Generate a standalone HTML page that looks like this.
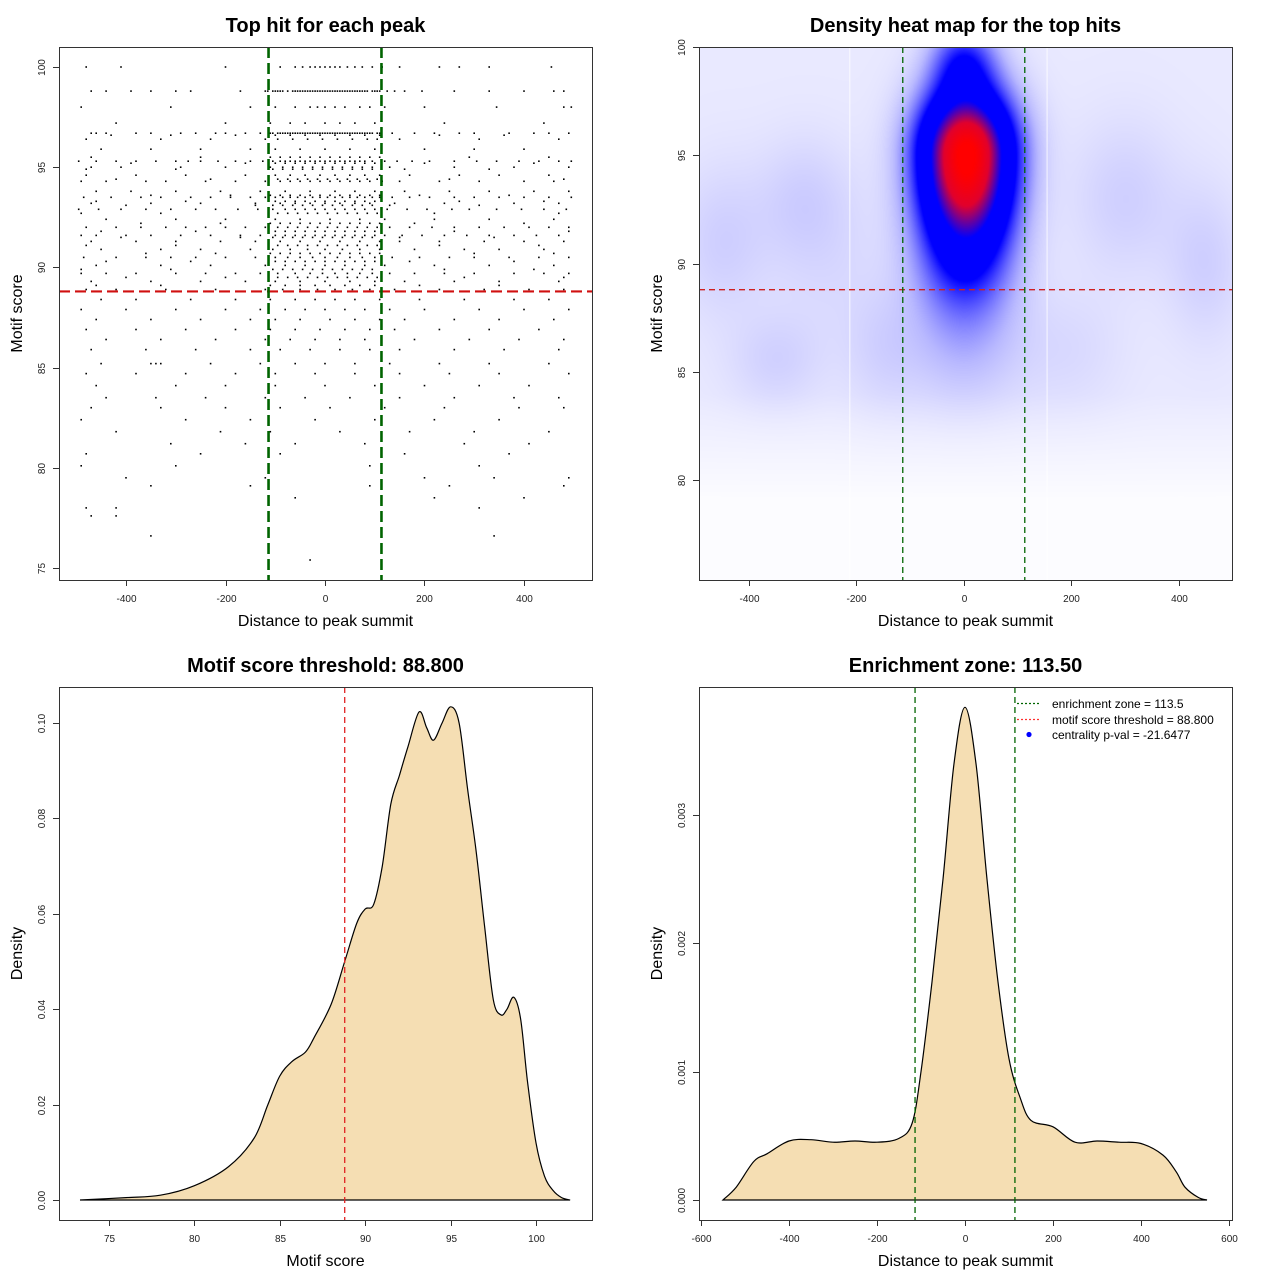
<!DOCTYPE html>
<html><head><meta charset="utf-8">
<style>
html,body{margin:0;padding:0;background:#fff;}
#wrap{position:relative;width:1280px;height:1280px;overflow:hidden;}
#heat{position:absolute;left:699px;top:47px;}
svg{position:absolute;left:0;top:0;}
text{font-family:"Liberation Sans",sans-serif;}
</style></head>
<body>
<div id="wrap">
<canvas id="heat" width="533" height="533"></canvas>
<svg id="svg" width="1280" height="1280"></svg>
</div>
<script>
// ---------- data ----------
// scatter: score levels and x distances of top hits at each level
const scatterLevels = [100,98.8,98,97.2,96.7,96.4,95.9,95.3,95,94.6,94.3,93.8,93.5,93.2,92.9,92.4,92,91.6,91.3,90.9,90.5,90.1,89.7,89.3,88.9,88.4,87.9,87.4,86.9,86.4,85.9,85.2,84.7,84.1,83.5,83,82.4,81.8,81.2,80.7,80.1,79.5,79.1,78.5,78,77.6,76.6,75.4,
  98.8,96.7,96.6,95.5,95.2,94.9,94.4,93.6,93.3,93.1,92.7,92.2,91.8,91.5,91.1,90.7,90.3,89.9,89.5,89.1];
const scatterX = [
[-480,-410,-200,-90,-60,-45,-30,-20,-10,0,10,20,30,45,60,75,95,115,150,230,270,330,455],
[-470,-440,-390,-350,-300,-270,-170,-120,-100,-90,-75,-60,-50,-40,-30,-20,-10,0,10,20,30,40,50,60,70,80,95,105,125,140,160,195,260,330,400,460,480],
[-490,-310,-150,-100,-60,-30,-15,0,20,40,70,90,120,200,345,480,495],
[-420,-200,-110,-70,-40,0,30,60,100,240,440],
[-470,-460,-440,-380,-350,-290,-260,-220,-200,-160,-130,-110,-90,-80,-70,-60,-50,-40,-30,-20,-10,0,10,20,30,40,50,60,70,80,90,110,135,180,220,270,300,370,420,450,490],
[-480,-330,-230,-120,-95,-65,-35,-5,25,55,85,105,150,310,470],
[-450,-350,-250,-150,-100,-50,0,50,100,200,300,400],
[-495,-460,-420,-380,-340,-300,-275,-250,-215,-180,-150,-125,-105,-90,-80,-70,-60,-50,-40,-30,-20,-10,0,10,20,30,40,50,60,70,80,95,120,145,175,210,260,305,345,390,430,470,495],
[-470,-410,-290,-200,-110,-85,-65,-45,-25,-5,15,35,55,75,95,130,260,380,490],
[-480,-380,-280,-160,-100,-70,-40,-10,20,50,80,110,170,270,350,450],
[-490,-440,-360,-320,-240,-180,-120,-90,-70,-50,-30,-10,10,30,50,70,90,115,150,230,310,400,460],
[-460,-390,-300,-210,-130,-80,-30,20,60,100,160,250,330,420,490],
[-485,-430,-370,-330,-270,-230,-190,-150,-120,-100,-85,-70,-55,-40,-25,-10,5,20,35,50,65,80,95,110,135,170,210,260,300,350,400,450,495],
[-470,-350,-250,-140,-90,-60,-30,0,30,60,90,140,240,380,470],
[-495,-455,-410,-360,-310,-260,-220,-175,-135,-105,-80,-60,-40,-20,0,20,40,60,80,100,125,165,205,255,290,345,395,440,485],
[-440,-300,-200,-100,-50,10,70,120,220,330,460],
[-480,-420,-370,-320,-280,-240,-200,-160,-120,-95,-75,-55,-35,-15,5,25,45,65,85,105,130,170,215,260,310,360,410,450,490],
[-490,-460,-400,-350,-290,-230,-170,-130,-100,-80,-60,-40,-20,0,20,40,60,80,100,120,155,195,240,285,330,380,425,470],
[-470,-380,-300,-210,-140,-90,-50,-10,30,70,110,150,230,320,400,480],
[-450,-330,-250,-150,-105,-70,-35,0,35,70,110,180,280,350,440],
[-485,-420,-360,-310,-260,-200,-140,-100,-75,-50,-25,0,25,50,75,100,135,190,250,300,370,430,490],
[-460,-330,-230,-120,-80,-40,0,40,80,120,220,330,460],
[-490,-440,-380,-300,-240,-180,-130,-95,-60,-30,-5,20,45,70,95,130,180,240,300,380,440,490],
[-470,-350,-250,-160,-100,-50,0,50,100,160,260,350,470],
[-480,-420,-320,-220,-120,-85,-50,-15,20,55,90,140,230,320,410,480],
[-450,-380,-270,-180,-110,-60,-20,20,60,110,190,280,380,450],
[-490,-400,-300,-200,-130,-80,-40,0,40,80,130,200,310,400,490],
[-460,-350,-250,-150,-100,-50,10,60,110,160,260,350,460],
[-480,-380,-280,-180,-110,-60,-10,40,90,140,230,330,430],
[-440,-330,-220,-120,-70,-20,30,80,180,290,390,480],
[-470,-360,-260,-150,-90,-30,30,90,150,260,360,470],
[-450,-350,-340,-330,-230,-130,-60,0,60,130,230,330,450],
[-480,-380,-280,-180,-100,-20,60,150,250,350,490],
[-460,-300,-200,-100,0,100,200,310,410],
[-440,-340,-240,-120,-40,50,150,260,380,470],
[-470,-330,-200,-90,10,120,240,390,480],
[-490,-280,-150,-20,100,220,350],
[-420,-210,-110,30,170,300,450],
[-310,-160,-60,80,280,410],
[-480,-250,-90,160,370],
[-490,-300,90,310],
[-400,-120,200,340,490],
[-350,-150,90,250,480],
[-60,220,400],
[-480,-420,310],
[-470,-420],
[-350,340],
[-30],
[-115,-105,-95,-85,-65,-55,-45,-35,-25,-15,-5,5,15,25,35,45,55,65,75,85,100,110],
[-105,-95,-85,-75,-65,-55,-45,-35,-25,-15,-5,5,15,25,35,45,55,65,75,85,95,105],
[-100,-70,-40,-10,20,50,80,110,-430,-310,-180,230,360],
[-110,-90,-70,-50,-30,-10,10,30,50,70,90,110,-470,-250,290,450],
[-100,-80,-60,-40,-20,0,20,40,60,80,100,-390,-160,200,420],
[-105,-85,-65,-45,-25,-5,15,35,55,75,95,-480,-300,160,330],
[-95,-75,-55,-35,-15,5,25,45,65,85,105,-420,-230,250,480],
[-110,-90,-70,-50,-30,-10,10,30,50,70,90,110,-350,-190,190,370],
[-100,-80,-60,-40,-20,0,20,40,60,80,100,-460,-280,270,440],
[-105,-85,-65,-45,-25,-5,15,35,55,75,95,-400,-140,130,310],
[-95,-75,-55,-35,-15,5,25,45,65,85,105,-490,-330,220,470],
[-110,-90,-70,-50,-30,-10,10,30,50,70,90,110,-370,-210,180,400],
[-100,-80,-60,-40,-20,0,20,40,60,80,100,-450,-260,260,490],
[-105,-85,-65,-45,-25,-5,15,35,55,75,95,-410,-170,150,340],
[-95,-75,-55,-35,-15,5,25,45,65,85,105,-480,-300,230,430],
[-110,-90,-70,-50,-30,-10,10,30,50,70,90,110,-360,-220,300,460],
[-100,-80,-60,-40,-20,0,20,40,60,80,100,-440,-270,170,380],
[-105,-85,-65,-45,-25,-5,15,35,55,75,95,-490,-310,240,420],
[-95,-75,-55,-35,-15,5,25,45,65,85,105,-400,-200,280,480],
[-110,-80,-50,-20,10,40,70,100,-460,-330,190,350]];
// heatmap density kernels: center x, center y, sd x, sd y (up), sd y (down), weight
const kernX  = [5,   0,    0,    -450,-300,-350,-150, 300, 450, 200,-250,  0];
const kernY  = [95, 99.3, 89.5,  91,  93,  85.5, 86,  93,  90,  86,  90,  86];
const kernSX = [57, 40,   65,    60,  60,  60,  50,  70,  50,  70,  80,  80];
const kernSYU= [2.0,1.2,  2,     2.5, 2,   1.5, 2,   2.5, 2.5, 2,   3,   2];
const kernSYD= [3.0,1.2,  2,     2.5, 2,   1.5, 2,   2.5, 2.5, 2,   3,   2];
const kernW  = [1.0,0.2,  0.1,   0.035,0.03,0.03,0.025,0.035,0.035,0.02,0.02,0.05];
// motif score density
const scoreX = [73.3,76,78,80,82,83.5,84.3,85,85.7,86.5,87,88,88.8,89.5,90,90.5,91,91.5,92,92.5,93.15,93.6,94,94.5,95,95.5,96,96.5,97,97.5,97.95,98.3,98.7,99.1,99.5,100,100.5,101,101.5,102];
const scoreY = [0,0.0005,0.001,0.003,0.007,0.013,0.02,0.026,0.029,0.031,0.034,0.041,0.05,0.058,0.061,0.062,0.07,0.083,0.089,0.095,0.1023,0.099,0.0964,0.1,0.1034,0.1,0.086,0.073,0.057,0.042,0.0388,0.04,0.0425,0.038,0.025,0.012,0.005,0.002,0.0005,0];
// distance density
const distX = [-550,-520,-480,-450,-400,-350,-300,-250,-200,-150,-120,-100,-75,-50,-25,0,25,50,75,100,125,150,200,250,300,350,400,450,480,500,530,550];
const distY = [0,0.0001,0.0003,0.00036,0.00046,0.00047,0.00045,0.00046,0.00045,0.00048,0.0006,0.001,0.0017,0.0025,0.0034,0.00384,0.0034,0.0025,0.0017,0.0011,0.0008,0.00062,0.00057,0.00045,0.00046,0.00045,0.00044,0.00035,0.00022,0.0001,0.00002,0];
const scoreThreshold = 88.8;
const zone = 113.5;
const xTicksDist = [-400,-200,0,200,400];
const yTicksScore = [75,80,85,90,95,100];
const yTicksHeat = [80,85,90,95,100];
const xTicksScore = [75,80,85,90,95,100];
const yTicksDens = [0,0.02,0.04,0.06,0.08,0.10];
const yTicksDensLab = ["0.00","0.02","0.04","0.06","0.08","0.10"];
const xTicksDist4 = [-600,-400,-200,0,200,400,600];
const yTicksD4 = [0,0.001,0.002,0.003];
const yTicksD4Lab = ["0.000","0.001","0.002","0.003"];

// ---------- helpers ----------
const NS="http://www.w3.org/2000/svg";
const svg=document.getElementById('svg');
function mk(tag,attrs,parent){const e=document.createElementNS(NS,tag);for(const k in attrs)e.setAttribute(k,attrs[k]);(parent||svg).appendChild(e);return e;}
function scale(d0,d1,p0,p1){return v=>p0+(v-d0)/(d1-d0)*(p1-p0);}
function panel(box,xd,yd){return {box,sx:scale(xd[0],xd[1],box[0],box[2]),sy:scale(yd[0],yd[1],box[3],box[1])};}
function frame(p,name){
  const r=mk('rect',{x:p.box[0]+0.5,y:p.box[1]+0.5,width:p.box[2]-p.box[0],height:p.box[3]-p.box[1],fill:'none',stroke:'#333','stroke-width':1});
  
}
function xAxis(p,ticks,labels,name){
  const g=mk('g',{});
  const y=p.box[3];
  ticks.forEach((t,i)=>{const x=Math.round(p.sx(t))+0.5;
    mk('line',{x1:x,x2:x,y1:y,y2:y+6,stroke:'#333'},g);
    const tx=mk('text',{x:x,y:y+22,'font-size':10,'text-anchor':'middle',fill:'#222'},g);tx.textContent=labels?labels[i]:String(t);
    
  });
}
function yAxis(p,ticks,labels,name){
  const g=mk('g',{});
  const x=p.box[0];
  ticks.forEach((t,i)=>{const y=Math.round(p.sy(t))+0.5;
    mk('line',{x1:x-6,x2:x,y1:y,y2:y,stroke:'#333'},g);
    const tx=mk('text',{x:x-14,y:y,'font-size':10,'text-anchor':'middle',fill:'#222',transform:`rotate(-90 ${x-14} ${y})`},g);tx.textContent=labels?labels[i]:String(t);
    
  });
}
function label(x,y,txt,size,opts,name){
  const a={x,y,'font-size':size,'text-anchor':'middle',fill:'#000'};Object.assign(a,opts||{});
  const t=mk('text',a);t.textContent=txt;return t;
}
function titles(p,title,xl,yl,prefix){
  const cx=(p.box[0]+p.box[2])/2, cy=(p.box[1]+p.box[3])/2;
  label(cx,p.box[1]-15,title,20,{'font-weight':'bold'},prefix+'-title');
  label(cx,p.box[3]+46,xl,16,{},prefix+'-x-axis-title');
  label(p.box[0]-37,cy,yl,16,{transform:`rotate(-90 ${p.box[0]-37} ${cy})`},prefix+'-y-axis-title');
}
function smoothPath(pts){
  let d=`M${pts[0][0]},${pts[0][1]}`;
  for(let i=0;i<pts.length-1;i++){
    const p0=pts[Math.max(0,i-1)],p1=pts[i],p2=pts[i+1],p3=pts[Math.min(pts.length-1,i+2)];
    const c1=[p1[0]+(p2[0]-p0[0])/6,p1[1]+(p2[1]-p0[1])/6],c2=[p2[0]-(p3[0]-p1[0])/6,p2[1]-(p3[1]-p1[1])/6];
    d+=`C${c1[0].toFixed(1)},${c1[1].toFixed(1)} ${c2[0].toFixed(1)},${c2[1].toFixed(1)} ${p2[0].toFixed(1)},${p2[1].toFixed(1)}`;
  }
  return d;
}

// ---------- panel 1: scatter ----------
const p1=panel([59,47,592,580],[-534.7,536.7],[74.4,101]);
const dots=mk('g',{fill:'#000'});
scatterLevels.forEach((lv,i)=>{scatterX[i].forEach(x=>{
  const r=mk('rect',{x:(p1.sx(x)-0.8).toFixed(1),y:(p1.sy(lv)-0.8).toFixed(1),width:1.6,height:1.6},dots);
  
});});
let l=mk('line',{x1:p1.box[0],x2:p1.box[2],y1:p1.sy(scoreThreshold),y2:p1.sy(scoreThreshold),stroke:'#d01010','stroke-width':2.2,'stroke-dasharray':'11 5'});

[-zone,zone].forEach(z=>{const v=mk('line',{x1:p1.sx(z),x2:p1.sx(z),y1:p1.box[1],y2:p1.box[3],stroke:'#006400','stroke-width':2.6,'stroke-dasharray':'11 5'});
  });
frame(p1,'scatter');xAxis(p1,xTicksDist,null,'scatter');yAxis(p1,yTicksScore,null,'scatter');
titles(p1,'Top hit for each peak','Distance to peak summit','Motif score','scatter');

// ---------- panel 2: heatmap ----------
const p2=panel([699,47,1232,580],[-492.6,499],[75.4,100]);
(function(){
  const cv=document.getElementById('heat'),ctx=cv.getContext('2d');
  const W=533,H=533,img=ctx.createImageData(W,H);
  const stops=[[0,255,255,255],[0.03,236,236,255],[0.1,185,185,255],[0.3,0,0,255],[0.55,0,0,255],[0.8,225,0,45],[1,255,0,0]];
  function col(f){if(f>=1)return [255,0,0];for(let i=1;i<stops.length;i++){if(f<=stops[i][0]){const a=stops[i-1],b=stops[i],t=(f-a[0])/(b[0]-a[0]);return [a[1]+(b[1]-a[1])*t,a[2]+(b[2]-a[2])*t,a[3]+(b[3]-a[3])*t];}}}
  const ix=v=>-492.6+(v+0.5)/W*(991.6), iy=v=>100-(v+0.5)/H*24.6;
  for(let py=0;py<H;py++){const yv=iy(py);
    const base=yv>84?0.034:(yv<79?0.004:0.004+(yv-79)/5*0.03);
    for(let px=0;px<W;px++){const xv=ix(px);let f=base;
      for(let k=0;k<kernX.length;k++){const dx=(xv-kernX[k])/kernSX[k];const sy=yv>kernY[k]?kernSYU[k]:kernSYD[k];const dy=(yv-kernY[k])/sy;
        f+=kernW[k]*Math.exp(-0.5*(dx*dx+dy*dy));}
      const c=col(f),o=(py*W+px)*4;img.data[o]=c[0];img.data[o+1]=c[1];img.data[o+2]=c[2];img.data[o+3]=255;}}
  ctx.putImageData(img,0,0);
})();
[-212,155].forEach(x=>{const w=mk('line',{x1:p2.sx(x),x2:p2.sx(x),y1:p2.box[1],y2:p2.box[3],stroke:'#fff','stroke-width':1,opacity:0.8});
  });
l=mk('line',{x1:p2.box[0],x2:p2.box[2],y1:p2.sy(scoreThreshold),y2:p2.sy(scoreThreshold),stroke:'#d02020','stroke-width':1.3,'stroke-dasharray':'6 4'});

[-zone,zone].forEach(z=>{const v=mk('line',{x1:p2.sx(z),x2:p2.sx(z),y1:p2.box[1],y2:p2.box[3],stroke:'#006400','stroke-width':1.3,'stroke-dasharray':'6 4'});
  });
frame(p2,'heatmap');xAxis(p2,xTicksDist,null,'heatmap');yAxis(p2,yTicksHeat,null,'heatmap');
titles(p2,'Density heat map for the top hits','Distance to peak summit','Motif score','heatmap');

// ---------- panel 3: score density ----------
const p3=panel([59,687,592,1220],[72.07,103.28],[-0.00419,0.10755]);
let pts=scoreX.map((x,i)=>[p3.sx(x),p3.sy(scoreY[i])]);
let a=mk('path',{d:smoothPath(pts)+'Z',fill:'#f5deb3',stroke:'#000','stroke-width':1.2});

l=mk('line',{x1:p3.sx(scoreThreshold),x2:p3.sx(scoreThreshold),y1:p3.box[1],y2:p3.box[3],stroke:'#e02020','stroke-width':1.3,'stroke-dasharray':'6 4'});

frame(p3,'score-density');xAxis(p3,xTicksScore,null,'score-density');yAxis(p3,yTicksDens,yTicksDensLab,'score-density');
titles(p3,'Motif score threshold: 88.800','Motif score','Density','score-density');

// ---------- panel 4: distance density ----------
const p4=panel([699,687,1232,1220],[-604.5,606.8],[-0.000156,0.003998]);
pts=distX.map((x,i)=>[p4.sx(x),p4.sy(distY[i])]);
a=mk('path',{d:smoothPath(pts)+'Z',fill:'#f5deb3',stroke:'#000','stroke-width':1.2});

[-zone,zone].forEach(z=>{const v=mk('line',{x1:p4.sx(z),x2:p4.sx(z),y1:p4.box[1],y2:p4.box[3],stroke:'#006400','stroke-width':1.3,'stroke-dasharray':'6 4'});
  });
frame(p4,'distance-density');xAxis(p4,xTicksDist4,null,'distance-density');yAxis(p4,yTicksD4,yTicksD4Lab,'distance-density');
titles(p4,'Enrichment zone: 113.50','Distance to peak summit','Density','distance-density');
// legend
const lg=mk('g',{});
const e1=mk('line',{x1:1017,x2:1041,y1:703.5,y2:703.5,stroke:'#006400','stroke-width':1.2,'stroke-dasharray':'2 2'},lg);
const e2=mk('line',{x1:1017,x2:1041,y1:719.5,y2:719.5,stroke:'#ff3030','stroke-width':1.2,'stroke-dasharray':'2 2'},lg);
const e3=mk('circle',{cx:1029,cy:734.5,r:2.6,fill:'#0000ff'},lg);
[['enrichment zone = 113.5',708],['motif score threshold = 88.800',724],['centrality p-val = -21.6477',739]].forEach(([t,y])=>{
  const tx=mk('text',{x:1052,y:y,'font-size':12,fill:'#000'},lg);tx.textContent=t;});
</script>
</body></html>
